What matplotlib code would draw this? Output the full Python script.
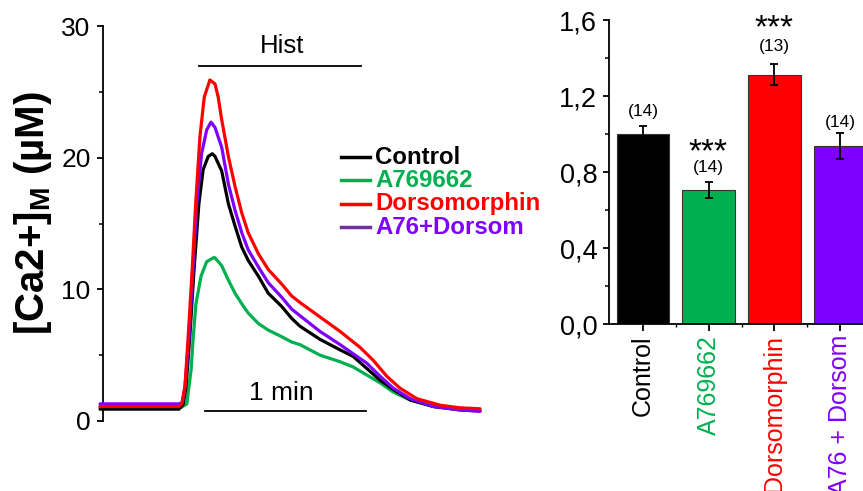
import matplotlib
matplotlib.use("Agg")
import matplotlib.pyplot as plt
from matplotlib.ticker import MultipleLocator, FixedLocator

plt.rcParams['font.family'] = ['Liberation Sans', 'DejaVu Sans']
plt.rcParams['mathtext.fontset'] = 'custom'
plt.rcParams['mathtext.rm'] = 'Liberation Sans'
plt.rcParams['mathtext.bf'] = 'Liberation Sans:bold'

# ---------------- data: traces (time in s, [Ca2+]M in uM) ----------------
t_control = [0, 15, 29.5, 31.1, 32.1, 33.5, 35.1, 36.9, 38.5, 40.4, 41.9, 42.9, 45.4, 47.9,
             50.4, 52.9, 55.3, 59.1, 62.8, 67.8, 71.5, 74.6, 82.1, 89.6, 94.5, 99.5,
             104.5, 109.4, 115.7, 124.4, 134.3, 141.8]
v_control = [0.9, 0.9, 0.9, 1.3, 2.6, 6.4, 11.5, 16.5, 19.1, 20.1, 20.3, 20.1, 19.0, 16.5,
             14.8, 13.2, 12.2, 11.0, 9.7, 8.7, 7.8, 7.2, 6.2, 5.4, 4.9, 4.0,
             3.1, 2.4, 1.6, 1.1, 0.84, 0.76]

t_a76 = [0, 15, 30.5, 32.4, 33.2, 34.0, 34.8, 35.8, 37.7, 39.8, 42.3, 42.9, 45.4, 47.9,
         50.4, 52.9, 55.3, 59.1, 62.8, 67.8, 71.5, 74.6, 82.1, 89.6, 94.5, 99.5,
         104.5, 109.4, 115.7, 124.4, 134.3, 141.8]
v_a76 = [1.05, 1.05, 1.05, 1.3, 2.6, 3.9, 6.4, 8.9, 11.0, 12.1, 12.4, 12.4, 11.8, 10.7,
         9.7, 8.9, 8.2, 7.4, 6.9, 6.4, 6.0, 5.8, 5.0, 4.5, 4.1, 3.5,
         2.9, 2.2, 1.6, 1.1, 0.93, 0.84]

t_dorso = [0, 15, 29.5, 30.5, 31.7, 32.9, 34.4, 35.7, 37.3, 38.9, 41.0, 42.9, 44.1, 45.4,
           47.9, 50.4, 52.9, 55.3, 59.1, 62.8, 67.8, 71.5, 74.6, 82.1, 89.6, 97.0,
           102.0, 107.0, 111.9, 118.2, 126.9, 134.3, 141.8]
v_dorso = [1.1, 1.1, 1.1, 1.3, 2.6, 6.4, 11.5, 16.5, 21.6, 24.6, 25.9, 25.6, 24.6, 22.9,
           20.1, 17.8, 15.8, 14.3, 12.7, 11.5, 10.4, 9.5, 9.0, 7.9, 6.8, 5.6,
           4.6, 3.4, 2.5, 1.7, 1.2, 1.0, 0.93]

t_combo = [0, 15, 29.5, 30.7, 31.7, 33.2, 34.7, 36.1, 37.9, 39.8, 41.4, 42.9, 45.4, 47.9,
           50.4, 52.9, 55.3, 59.1, 62.8, 67.8, 71.5, 74.6, 82.1, 89.6, 94.5, 99.5,
           104.5, 109.4, 115.7, 124.4, 134.3, 141.8]
v_combo = [1.3, 1.3, 1.3, 1.4, 2.6, 6.4, 11.5, 16.5, 20.3, 22.1, 22.7, 22.3, 20.8, 18.0,
           16.0, 14.3, 13.0, 11.7, 10.5, 9.4, 8.5, 8.0, 6.8, 5.8, 5.1, 4.4,
           3.4, 2.5, 1.7, 1.1, 0.84, 0.74]

trace_labels = ["Control", "A769662", "Dorsomorphin", "A76+Dorsom"]

# ---------------- data: bar chart ----------------
bar_categories = ["Control", "A769662", "Dorsomorphin", "A76 + Dorsom"]
bar_values = [1.0, 0.705, 1.312, 0.939]
bar_errors = [0.044, 0.044, 0.055, 0.068]
bar_n = ["(14)", "(14)", "(13)", "(14)"]
bar_sig = ["", "***", "***", ""]
ytick_vals = [0.0, 0.4, 0.8, 1.2, 1.6]
ytick_labels = ["0,0", "0,4", "0,8", "1,2", "1,6"]

colors = ["#000000", "#00B050", "#FF0000", "#8000FF"]
legend_line_colors = ["#000000", "#00B050", "#FF0000", "#7030A0"]

W, H = 863, 491
fig = plt.figure(figsize=(W / 100, H / 100), dpi=100)

# ---------------- left: traces ----------------
ax = fig.add_axes([100 / W, (H - 421) / H, 400 / W, 395 / H])
traces = [(t_control, v_control), (t_a76, v_a76), (t_dorso, v_dorso), (t_combo, v_combo)]
for i in [1, 0, 3, 2]:
    t, v = traces[i]
    ax.plot(t, v, color=colors[i], lw=2.3, solid_joinstyle='round',
            solid_capstyle='round', clip_on=False, zorder=3)

ax.set_xlim(0, 400 / 2.68)
ax.set_ylim(0, 30)
for s in ["top", "right", "bottom"]:
    ax.spines[s].set_visible(False)
ax.spines["left"].set_position(("data", 1.2))
ax.spines["left"].set_linewidth(1.3)
ax.set_xticks([])
ax.yaxis.set_major_locator(MultipleLocator(10))
ax.yaxis.set_minor_locator(MultipleLocator(5))
ax.tick_params(axis="y", which="major", direction="out", length=4.5, width=1.3,
               labelsize=19, pad=4.5)
ax.tick_params(axis="y", which="minor", direction="out", length=3, width=1.1)
ax.patch.set_visible(False)

# Hist bar and 1 min scale bar
ax.plot([36.9, 97.4], [27.0, 27.0], color="black", lw=1.3, clip_on=False)
ax.text(67.9, 28.5, "Hist", ha="center", va="center", fontsize=18.5)
ax.plot([39.2, 99.3], [0.76, 0.76], color="black", lw=1.3, clip_on=False)
ax.text(67.5, 2.13, "1 min", ha="center", va="center", fontsize=19)

# legend (manual)
leg_y = [20.05, 18.3, 16.5, 14.7]
for i in range(4):
    ax.plot([89.9, 100.7], [leg_y[i], leg_y[i]], color=legend_line_colors[i], lw=2.5,
            clip_on=False)
    ax.text(102.6, leg_y[i], trace_labels[i], color=colors[i], fontsize=17.3,
            fontweight="bold", ha="left", va="center")

fig.text(33 / W, (H - 213) / H, r"[Ca2+]$_\mathbf{M}$ (µM)", rotation=90,
         fontsize=29, fontweight="bold", ha="center", va="center")

# ---------------- right: bars ----------------
ax2 = fig.add_axes([609 / W, (H - 324) / H, 264 / W, 304 / H])
x = list(range(len(bar_categories)))
ax2.bar(x, bar_values, width=0.8, color=colors, edgecolor="#333333", linewidth=0.8,
        zorder=2)
ax2.errorbar(x, bar_values, yerr=bar_errors, fmt="none", ecolor="black", elinewidth=1.3,
             capsize=3, capthick=1.3, zorder=3)
ax2.set_xlim(-0.517, 3.5)
ax2.set_ylim(0, 1.6)
for s in ["top", "right"]:
    ax2.spines[s].set_visible(False)
ax2.spines["left"].set_linewidth(1.3)
ax2.spines["bottom"].set_linewidth(1.3)
ax2.set_yticks(ytick_vals)
ax2.set_yticklabels(ytick_labels)
ax2.yaxis.set_minor_locator(MultipleLocator(0.2))
ax2.tick_params(axis="y", which="major", direction="out", length=4.5, width=1.3,
                labelsize=19.5, pad=4)
ax2.tick_params(axis="y", which="minor", direction="out", length=3, width=1.1)
ax2.set_xticks(x)
ax2.set_xticklabels(bar_categories, rotation=90, fontsize=18)
for lbl, c in zip(ax2.get_xticklabels(), colors):
    lbl.set_color(c)
ax2.xaxis.set_minor_locator(FixedLocator([0.5, 1.5, 2.5]))
ax2.tick_params(axis="x", which="major", direction="out", length=5, width=1.3, pad=3)
ax2.tick_params(axis="x", which="minor", direction="out", length=2.5, width=1.0)

n_y = [1.116, 0.826, 1.458, 1.063]
sig_y = [None, 0.905, 1.558, None]
for i in range(4):
    ax2.text(x[i], n_y[i], bar_n[i], ha="center", va="center", fontsize=12.5)
    if bar_sig[i]:
        stars = "".join("{" + c + "}" for c in bar_sig[i])
        ax2.text(x[i], sig_y[i], r"$\mathregular{" + stars + "}$",
                 ha="center", va="center", fontsize=24)

fig.savefig("out.png", dpi=100)
